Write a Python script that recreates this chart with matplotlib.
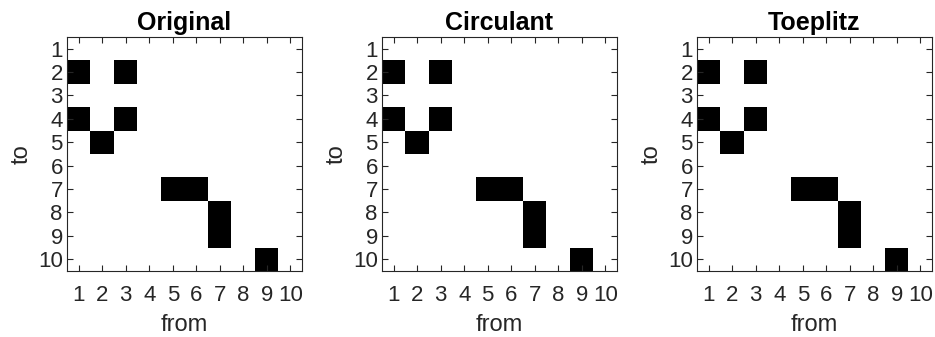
import numpy as np
import matplotlib.pyplot as plt

plt.rcParams['font.family'] = ['Liberation Sans', 'DejaVu Sans']

titles = ["Original", "Circulant", "Toeplitz"]
n_nodes = 10
# (to, from) pairs of the non-zero entries, 1-based
edges_to = [2, 2, 4, 4, 5, 7, 7, 8, 9, 10]
edges_from = [1, 3, 1, 3, 2, 5, 6, 7, 7, 9]

matrices = []
for t in titles:
    m = np.zeros((n_nodes, n_nodes))
    for r, c in zip(edges_to, edges_from):
        m[r - 1, c - 1] = 1
    matrices.append(m)

fig = plt.figure(figsize=(9.35, 3.37), dpi=100)
W, H = 935, 337
lefts = [67, 382, 697]
box_w, box_h = 235, 234
top = 37

for left, title, m in zip(lefts, titles, matrices):
    ax = fig.add_axes([left / W, 1 - (top + box_h) / H, box_w / W, box_h / H])
    ticks = np.arange(1, n_nodes + 1)
    ax.imshow(m, cmap="gray_r", vmin=0, vmax=1, interpolation="nearest",
              extent=(0.5, n_nodes + 0.5, n_nodes + 0.5, 0.5), aspect="auto")
    ax.set_xlim(0.5, n_nodes + 0.5)
    ax.set_ylim(n_nodes + 0.5, 0.5)
    ax.set_xticks(ticks)
    ax.set_yticks(ticks)
    ax.tick_params(direction="in", top=True, right=True, length=4,
                   labelsize=16, colors="#262626")
    ax.tick_params(axis="x", pad=10)
    ax.tick_params(axis="y", pad=3)
    for s in ax.spines.values():
        s.set_color("#262626")
        s.set_linewidth(0.8)
    ax.set_title(title, fontsize=18, fontweight="bold", pad=5)
    ax.set_xlabel("from", fontsize=17, color="#262626", labelpad=6)
    ax.set_ylabel("to", fontsize=17, color="#262626", labelpad=4)

fig.savefig("out.png", dpi=100)
